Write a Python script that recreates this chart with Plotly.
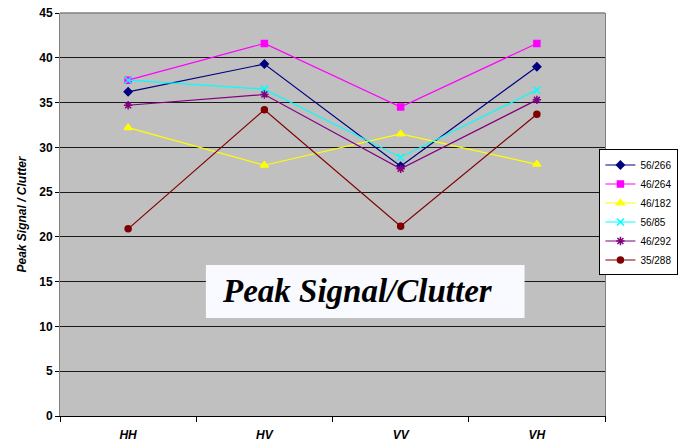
import plotly.graph_objects as go

# Polarisation channels along the x axis
categories = ["HH", "HV", "VV", "VH"]

# Peak signal-to-clutter ratio per target
s_56_266 = [36.2, 39.3, 27.9, 39.0]
s_46_264 = [37.5, 41.6, 34.5, 41.6]
s_46_182 = [32.2, 28.0, 31.5, 28.1]
s_56_85 = [37.5, 36.5, 28.9, 36.4]
s_46_292 = [34.7, 35.9, 27.6, 35.3]
s_35_288 = [20.9, 34.2, 21.2, 33.7]

y_ticks = list(range(0, 50, 5))

series = [
    ("56/266", s_56_266, "#000080", "diamond", 6),
    ("46/264", s_46_264, "#FF00FF", "square", 6),
    ("46/182", s_46_182, "#FFFF00", "triangle-up", 7),
    ("56/85", s_56_85, "#00FFFF", "x-thin-open", 7),
    ("46/292", s_46_292, "#800080", "asterisk-open", 7),
    ("35/288", s_35_288, "#800000", "circle", 6),
]

fig = go.Figure()
for name, vals, color, symbol, size in series:
    fig.add_trace(go.Scatter(
        x=categories, y=vals, name=name, mode="lines+markers",
        line=dict(color=color, width=1.2),
        marker=dict(symbol=symbol, size=size, color=color,
                    line=dict(color=color, width=1.5)),
    ))

sans = "Liberation Sans, Arial, sans-serif"

fig.update_layout(
    width=680, height=446,
    margin=dict(l=60, r=74.5, t=13, b=30, autoexpand=False),
    paper_bgcolor="white",
    plot_bgcolor="#C0C0C0",
    font=dict(family=sans, size=12, color="black"),
    showlegend=True,
    legend=dict(
        x=1.1347, xanchor="right", y=0.505, yanchor="middle",
        bgcolor="white", bordercolor="black", borderwidth=1,
        font=dict(family=sans, size=10, color="black"),
        itemwidth=30, tracegroupgap=0,
    ),
    xaxis=dict(
        type="category", range=[-0.5, 3.5],
        showgrid=False, showline=True, linecolor="black", linewidth=1,
        ticks="outside", ticklen=5, tickcolor="black", tickson="boundaries",
        ticklabelstandoff=8,
        tickfont=dict(family=sans, size=12, color="black", weight="bold", style="italic"),
        zeroline=False,
    ),
    yaxis=dict(
        range=[0, 45], tickvals=y_ticks,
        showgrid=True, gridcolor="#1a1a1a", gridwidth=1,
        showline=True, linecolor="#808080", linewidth=1, mirror=True,
        ticks="outside", ticklen=4, tickcolor="black",
        tickfont=dict(family=sans, size=12, color="black", weight="bold"),
        zeroline=False,
        title=dict(text="Peak Signal / Clutter", standoff=10,
                   font=dict(family=sans, size=12, color="black",
                             weight="bold", style="italic")),
    ),
    shapes=[
        dict(type="line", xref="paper", yref="paper", x0=0, x1=1, y0=1, y1=1,
             line=dict(color="#808080", width=1.5), layer="above"),
        dict(type="rect", xref="paper", yref="paper",
             x0=0.2677, x1=0.8524, y0=0.2432, y1=0.3747,
             fillcolor="#F8FAFF", line=dict(width=0), layer="above"),
    ],
    annotations=[
        dict(text="Peak Signal/Clutter", xref="paper", yref="paper",
             x=0.2933, xanchor="left", y=0.31, yanchor="middle",
             showarrow=False,
             font=dict(family="Liberation Serif, Times New Roman, serif",
                       size=33, color="black", weight="bold", style="italic")),
    ],
)

fig.write_html("out.html")
